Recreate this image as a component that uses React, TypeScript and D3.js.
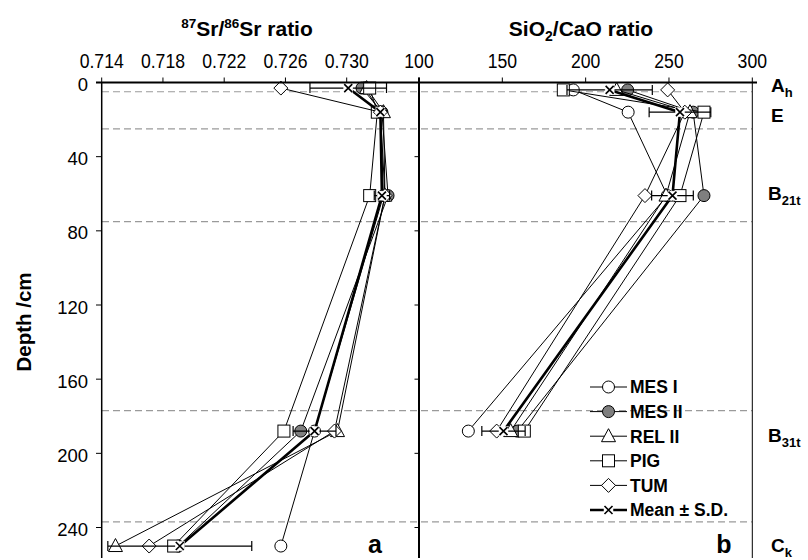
import React from "react";
import * as d3 from "d3";

// ---------- data ----------
const seriesNames = ["MES I", "MES II", "REL II", "PIG", "TUM"];
const seriesKinds = ["circleWhite", "circleGray", "triangle", "square", "diamond"];

const srDepths = [3, 16, 61, 188, 250];
const srMESI = [0.7312, 0.7322, 0.7324, 0.7279, 0.7257];
const srMESII = [0.731, 0.7323, 0.7327, 0.727, 0.719];
const srRELII = [0.7313, 0.7324, 0.7325, 0.7294, 0.7149];
const srPIG = [0.7315, 0.732, 0.7315, 0.7259, 0.7187];
const srTUM = [0.7257, 0.7322, 0.7325, 0.7292, 0.7171];
const srMean = [0.7301, 0.7322, 0.7323, 0.7279, 0.7191];
const srSD = [0.0025, 0.0002, 0.0005, 0.0014, 0.0047];

const siDepths = [4, 16, 61, 188];
const siMESI = [192.6, 225.5, 249, 129.6];
const siMESII = [225.2, 264.5, 271, 159];
const siRELII = [218.6, 262.6, 248.2, 155];
const siPIG = [186.6, 271, 256.6, 163.2];
const siTUM = [249.2, 259.5, 235.6, 146.6];
const siMean = [214.4, 256.6, 252.1, 150.7];
const siSD = [25.6, 18.5, 12.5, 13];

const srTicks = [0.714, 0.718, 0.722, 0.726, 0.73];
const siTicks = [100, 150, 200, 250, 300];
const depthTicks = [0, 40, 80, 120, 160, 200, 240];
const horizonBounds = [5, 25, 75, 177, 237];

// ---------- layout ----------
const W = 808;
const H = 560;
const FONT = "'Liberation Sans', Arial, Helvetica, sans-serif";
const TOP = 82.5;
const BOTTOM = 558;

const y = d3.scaleLinear().domain([0, 240]).range([TOP, 527.5]);
const xSr = d3.scaleLinear().domain([0.714, 0.73]).range([101.7, 346.7]);
const xSi = d3.scaleLinear().domain([100, 300]).range([419, 752.3]);

const srSeries = [srMESI, srMESII, srRELII, srPIG, srTUM];
const siSeries = [siMESI, siMESII, siRELII, siPIG, siTUM];

const line = d3.line<[number, number]>().x((d) => d[0]).y((d) => d[1]);

function Marker({ kind, cx, cy }: { kind: string; cx: number; cy: number }) {
  const st = { stroke: "#000", strokeWidth: 1 };
  if (kind === "circleWhite") return <circle cx={cx} cy={cy} r={6} fill="#fff" {...st} />;
  if (kind === "circleGray") return <circle cx={cx} cy={cy} r={6} fill="#7f7f7f" {...st} />;
  if (kind === "square") return <rect x={cx - 6} y={cy - 6} width={12} height={12} fill="#fff" {...st} />;
  if (kind === "triangle")
    return <path d={`M${cx},${cy - 7.5}L${cx + 7},${cy + 5.5}L${cx - 7},${cy + 5.5}Z`} fill="#fff" {...st} />;
  if (kind === "diamond")
    return <path d={`M${cx},${cy - 7}L${cx + 7},${cy}L${cx},${cy + 7}L${cx - 7},${cy}Z`} fill="#fff" {...st} />;
  // mean marker: small box with X
  return (
    <g>
      <rect x={cx - 4.5} y={cy - 4.5} width={9} height={9} fill="#fff" stroke="#fff" strokeWidth={0.5} />
      <path d={`M${cx - 4},${cy - 4}L${cx + 4},${cy + 4}M${cx - 4},${cy + 4}L${cx + 4},${cy - 4}`} stroke="#000" strokeWidth={1.6} />
    </g>
  );
}

function Panel({
  series,
  mean,
  sd,
  depths,
  x,
}: {
  series: number[][];
  mean: number[];
  sd: number[];
  depths: number[];
  x: d3.ScaleLinear<number, number>;
}) {
  return (
    <g>
      {series.map((vals, si) => {
        const pts: [number, number][] = vals.map((v, i) => [x(v), y(depths[i])]);
        return (
          <g key={si}>
            <path d={line(pts) || ""} fill="none" stroke="#000" strokeWidth={1} />
            {pts.map((p, i) => (
              <Marker key={i} kind={seriesKinds[si]} cx={p[0]} cy={p[1]} />
            ))}
          </g>
        );
      })}
      {mean.map((m, i) => {
        const yy = y(depths[i]);
        const x0 = x(m - sd[i]);
        const x1 = x(m + sd[i]);
        return (
          <path
            key={"e" + i}
            d={`M${x0},${yy}L${x1},${yy}M${x0},${yy - 5}L${x0},${yy + 5}M${x1},${yy - 5}L${x1},${yy + 5}`}
            stroke="#000"
            strokeWidth={1.2}
            fill="none"
          />
        );
      })}
      <path
        d={line(mean.map((v, i) => [x(v), y(depths[i])] as [number, number])) || ""}
        fill="none"
        stroke="#000"
        strokeWidth={2.6}
      />
      {mean.map((m, i) => (
        <Marker key={"m" + i} kind="mean" cx={x(m)} cy={y(depths[i])} />
      ))}
    </g>
  );
}

export default function App() {
  const legendY0 = 387;
  const legendStep = 24.6;
  return (
    <svg
      width={W}
      height={H}
      style={{ position: "absolute", left: 0, top: 0, display: "block", background: "#fff" }}
      fontFamily={FONT}
    >
      <rect x={0} y={0} width={W} height={H} fill="#fff" />

      {/* horizon dashed lines */}
      {horizonBounds.map((d, i) => (
        <line
          key={i}
          x1={102}
          x2={752}
          y1={y(d)}
          y2={y(d)}
          stroke="#9a9a9a"
          strokeWidth={1.2}
          strokeDasharray="7,4"
        />
      ))}

      {/* titles */}
      <text x={247} y={36} textAnchor="middle" fontWeight="bold" fontSize={21}>
        <tspan fontSize={13.5} dy={-8}>87</tspan>
        <tspan dy={8}>Sr/</tspan>
        <tspan fontSize={13.5} dy={-8}>86</tspan>
        <tspan dy={8}>Sr ratio</tspan>
      </text>
      <text x={581} y={36} textAnchor="middle" fontWeight="bold" fontSize={21}>
        SiO<tspan fontSize={14} dy={5}>2</tspan>
        <tspan dy={-5}>/CaO ratio</tspan>
      </text>

      {/* top tick labels */}
      {srTicks.map((t) => (
        <text
          key={"st" + t}
          transform={`translate(${xSr(t)},67.7) scale(0.86,1)`}
          textAnchor="middle"
          fontSize={20.5}
        >
          {d3.format(".3f")(t)}
        </text>
      ))}
      {siTicks.map((t) => (
        <text
          key={"sit" + t}
          transform={`translate(${xSi(t)},67.7) scale(0.86,1)`}
          textAnchor="middle"
          fontSize={20.5}
        >
          {t}
        </text>
      ))}

      {/* top ticks */}
      {srTicks.map((t) => (
        <line key={"tt" + t} x1={xSr(t)} x2={xSr(t)} y1={TOP} y2={TOP - 5} stroke="#000" strokeWidth={1} />
      ))}
      {siTicks.map((t) => (
        <line key={"tti" + t} x1={xSi(t)} x2={xSi(t)} y1={TOP} y2={TOP - 5} stroke="#000" strokeWidth={1} />
      ))}

      {/* y axis left */}
      <line x1={101.7} x2={101.7} y1={TOP} y2={BOTTOM} stroke="#000" strokeWidth={1.5} />
      {depthTicks.map((d) => (
        <g key={"yt" + d}>
          <line x1={96} x2={101.7} y1={y(d)} y2={y(d)} stroke="#000" strokeWidth={1} />
          <text x={88} y={y(d) + 8.5} textAnchor="end" fontSize={18.5}>
            {d}
          </text>
        </g>
      ))}
      <text
        transform={`translate(31,322) rotate(-90)`}
        textAnchor="middle"
        fontWeight="bold"
        fontSize={20.5}
      >
        Depth /cm
      </text>

      {/* right panel axes */}
      <line x1={419} x2={419} y1={TOP - 5} y2={BOTTOM} stroke="#000" strokeWidth={2} />
      {depthTicks.map((d) => (
        <line key={"yt2" + d} x1={414.5} x2={419} y1={y(d)} y2={y(d)} stroke="#000" strokeWidth={1} />
      ))}
      <line x1={752.3} x2={752.3} y1={TOP} y2={BOTTOM} stroke="#000" strokeWidth={1} />

      {/* data */}
      <Panel series={srSeries} mean={srMean} sd={srSD} depths={srDepths} x={xSr} />
      <Panel series={siSeries} mean={siMean} sd={siSD} depths={siDepths} x={xSi} />

      {/* top axis line */}
      <line x1={96} x2={757} y1={TOP} y2={TOP} stroke="#000" strokeWidth={2} />

      {/* legend */}
      {seriesNames.concat(["Mean ± S.D."]).map((name, i) => {
        const yy = legendY0 + i * legendStep;
        const isMean = i === 5;
        return (
          <g key={name}>
            <line x1={590} x2={627} y1={yy} y2={yy} stroke="#000" strokeWidth={isMean ? 2.6 : 1} />
            <Marker kind={isMean ? "mean" : seriesKinds[i]} cx={608.5} cy={yy} />
            <text x={630} y={yy + 6.3} fontWeight="bold" fontSize={17.5}>
              {name}
            </text>
          </g>
        );
      })}

      {/* panel letters */}
      <text x={375} y={553} textAnchor="middle" fontWeight="bold" fontSize={25}>
        a
      </text>
      <text x={724} y={553} textAnchor="middle" fontWeight="bold" fontSize={25}>
        b
      </text>

      {/* horizon labels */}
      <g fontWeight="bold" fontSize={19}>
        <text x={771} y={92}>
          A<tspan fontSize={13} dy={5}>h</tspan>
        </text>
        <text x={771} y={122}>E</text>
        <text x={768} y={200}>
          B<tspan fontSize={13} dy={5}>21t</tspan>
        </text>
        <text x={768} y={442}>
          B<tspan fontSize={13} dy={5}>31t</tspan>
        </text>
        <text x={771} y={552}>
          C<tspan fontSize={13} dy={5}>k</tspan>
        </text>
      </g>
    </svg>
  );
}
